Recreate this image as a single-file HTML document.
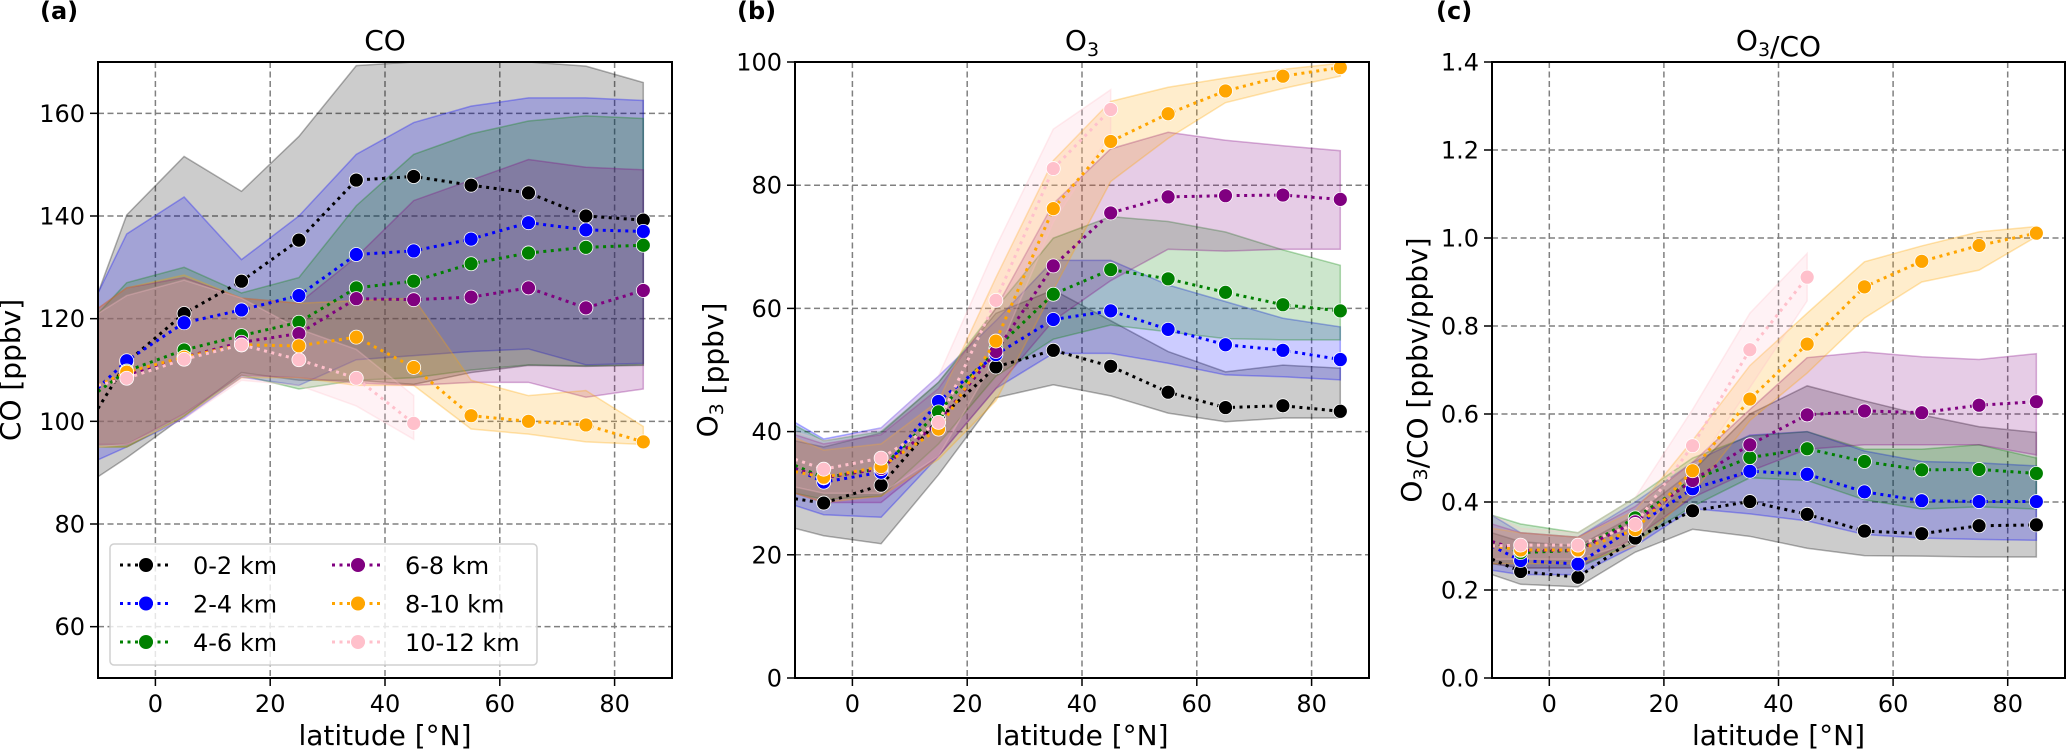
<!DOCTYPE html>
<html><head><meta charset="utf-8"><style>
html,body{margin:0;padding:0;background:#fff;}
svg{display:block;font-family:"DejaVu Sans","Liberation Sans",sans-serif;}
</style></head><body>
<svg id="fig" width="2067" height="750" viewBox="0 0 2067 750" xmlns="http://www.w3.org/2000/svg"></svg>
<script>
// ---- data (index 0 = value at left axis edge, -10°N) ----
const lats = [-10,-5,5,15,25,35,45,55,65,75,85];
const seriesNames = ["0-2 km","2-4 km","4-6 km","6-8 km","8-10 km","10-12 km"];
const seriesColors = ["#000000","#0000ff","#008000","#800080","#ffa500","#ffc0cb"];

// CO [ppbv]
const co_02 = [102.5,111.5,121,127.3,135.3,147,147.7,146,144.5,140,139.2];
const co_24 = [106.5,111.8,119.2,121.7,124.5,132.5,133.2,135.5,138.7,137.3,137];
const co_46 = [105.8,109.8,113.9,116.7,119.3,126,127.3,130.7,132.8,133.9,134.3];
const co_68 = [107,109,112.5,115.4,117.1,123.9,123.7,124.2,126,122.1,125.5];
const co_810 = [107,109.6,112.5,114.9,114.7,116.4,110.5,101.1,100,99.3,96];
const co_1012 = [107,108.4,112.1,114.9,112,108.4,99.6];
const co_02_lo = [89.2,92.9,101,109.5,108,108,107.2,109.5,110.9,110.7,110.9];
const co_02_hi = [125,140.2,151.6,144.8,155.5,169.3,170,170,170,169.2,166];
const co_24_lo = [92.5,95,100.6,108.6,107,112,112.8,113.6,114.1,111,111.3];
const co_24_hi = [125,136.5,143.7,131.5,140,152,158.2,161.4,163,163,162.5];
const co_46_lo = [95,95,101,109,106.3,108,108.5,110,111,110.8,111];
const co_46_hi = [121,127,130,125,128,142,152,156,158.5,159.5,159];
const co_68_lo = [95.5,95.5,101.5,109,108.5,107.5,107,107.6,107.6,104.7,106.3];
const co_68_hi = [122,126,128,124,123,132,143,147,151,149.5,149];
const co_810_lo = [95,95,101,108.5,108.5,107,107,98.5,97.5,96,95.5];
const co_810_hi = [122,126,128.5,124,123,123.5,124,108,105,106,99];
const co_1012_lo = [95,95.5,100.5,108,107,103,96.5];
const co_1012_hi = [121,124.5,127.5,124,118,114,105];

// O3 [ppbv]
const o3_02 = [29.1,28.4,31.3,42,50.5,53.2,50.6,46.4,43.9,44.2,43.3];
const o3_24 = [34,31.8,33.4,44.9,52.5,58.2,59.6,56.6,54.1,53.2,51.7];
const o3_46 = [34.5,32.5,34,43.2,53.5,62.3,66.3,64.8,62.6,60.6,59.6];
const o3_68 = [34,32.5,34,41.5,53,66.9,75.5,78.1,78.3,78.4,77.7];
const o3_810 = [33.5,32.6,34.3,40.4,54.7,76.2,87.1,91.6,95.3,97.7,99.1];
const o3_1012 = [35.5,33.9,35.7,41.5,61.3,82.7,92.3];
const o3_02_lo = [24.3,23.1,21.8,33,45.5,47.6,45.8,43,41.6,42.2,42.2];
const o3_02_hi = [38.5,37.5,39.8,48,59.2,63,58,53,49.7,50.8,50.3];
const o3_24_lo = [28,26.5,26.1,36,47,52.7,52.7,51.1,49.2,48.9,48.4];
const o3_24_hi = [41.5,38.8,40.6,49,58,67.8,67.8,63.8,61.1,58.4,57];
const o3_46_lo = [30,29,29.5,38,49,55,57.3,56.2,55.1,54.9,54.9];
const o3_46_hi = [41,38.5,40,48,60,71.4,74.9,74.1,72.4,69.5,67];
const o3_68_lo = [30,28.5,28.5,36,47,58,64.5,69.6,69.3,69.6,69.6];
const o3_68_hi = [39.5,38,39.5,47,60,77,85.9,88.6,87.3,86.4,85.6];
const o3_810_lo = [30,28.5,29.5,35.5,45,63,80.6,87.6,93.4,95.7,97.7];
const o3_810_hi = [39,37,38,45,65,84,93.6,95.9,97.4,98.8,99.8];
const o3_1012_lo = [31,30,30,36,52,74,88.4];
const o3_1012_hi = [40,38.5,40.5,49,70,89.1,95.5];

// O3/CO [ppbv/ppbv]
const r_02 = [0.27,0.242,0.229,0.318,0.380,0.401,0.372,0.334,0.328,0.346,0.348];
const r_24 = [0.30,0.267,0.259,0.345,0.430,0.470,0.463,0.423,0.403,0.401,0.401];
const r_46 = [0.31,0.285,0.29,0.364,0.45,0.501,0.521,0.492,0.473,0.474,0.465];
const r_68 = [0.31,0.29,0.29,0.355,0.449,0.530,0.598,0.607,0.603,0.620,0.628];
const r_810 = [0.30,0.291,0.291,0.337,0.471,0.634,0.759,0.889,0.947,0.983,1.011];
const r_1012 = [0.30,0.302,0.302,0.349,0.528,0.746,0.911];
const r_02_lo = [0.235,0.213,0.207,0.286,0.338,0.322,0.295,0.278,0.277,0.275,0.275];
const r_02_hi = [0.33,0.31,0.30,0.37,0.47,0.60,0.664,0.630,0.598,0.571,0.558];
const r_24_lo = [0.245,0.235,0.235,0.30,0.385,0.373,0.357,0.326,0.318,0.315,0.313];
const r_24_hi = [0.37,0.33,0.32,0.40,0.49,0.552,0.560,0.516,0.492,0.489,0.482];
const r_46_lo = [0.26,0.25,0.25,0.31,0.39,0.455,0.449,0.405,0.384,0.389,0.384];
const r_46_hi = [0.37,0.35,0.33,0.41,0.50,0.55,0.56,0.52,0.52,0.53,0.50];
const r_68_lo = [0.26,0.25,0.25,0.32,0.41,0.47,0.52,0.53,0.53,0.53,0.507];
const r_68_hi = [0.35,0.33,0.32,0.39,0.49,0.61,0.728,0.741,0.730,0.724,0.737];
const r_810_lo = [0.26,0.26,0.26,0.30,0.42,0.585,0.693,0.818,0.90,0.927,1.003];
const r_810_hi = [0.34,0.33,0.32,0.38,0.54,0.71,0.829,0.946,0.982,1.014,1.026];
const r_1012_lo = [0.27,0.27,0.27,0.31,0.47,0.66,0.857];
const r_1012_hi = [0.37,0.34,0.33,0.41,0.61,0.829,0.965];

const xTicks = [0,20,40,60,80];
const coTicks = [60,80,100,120,140,160];
const o3Ticks = [0,20,40,60,80,100];
const rTicks = [0,0.2,0.4,0.6,0.8,1.0,1.2,1.4];

const NS = "http://www.w3.org/2000/svg";
const fig = document.getElementById('fig');
function mk(tag, attrs, parent){
  const e = document.createElementNS(NS, tag);
  for (const k in attrs) e.setAttribute(k, attrs[k]);
  (parent||fig).appendChild(e);
  return e;
}

function panel(p){
  const X = v => p.x0 + (v - (-10)) / 100 * (p.x1 - p.x0);
  const Y = v => p.y1 - (v - p.ymin) / (p.ymax - p.ymin) * (p.y1 - p.y0);
  const g = mk('g', {});
  
  
  const cp = mk('clipPath', {id: 'clip-' + p.name}, g);
  mk('rect', {x: p.x0, y: p.y0, width: p.x1 - p.x0, height: p.y1 - p.y0}, cp);
  const grid = mk('g', {stroke: '#808080', 'stroke-width': 1.5, 'stroke-dasharray': '6,3.5'}, g);
  
  
  xTicks.forEach(t => mk('line', {x1: X(t), x2: X(t), y1: p.y0, y2: p.y1}, grid));
  p.yt.forEach(t => mk('line', {x1: p.x0, x2: p.x1, y1: Y(t), y2: Y(t)}, grid));
  const data = mk('g', {'clip-path': 'url(#clip-' + p.name + ')'}, g);
  p.series.forEach((s, i) => {
    const n = s.mean.length;
    let d = '';
    for (let k = 0; k < n; k++) d += (k ? 'L' : 'M') + X(lats[k]) + ',' + Y(s.hi[k]);
    for (let k = n - 1; k >= 0; k--) d += 'L' + X(lats[k]) + ',' + Y(s.lo[k]);
    const band = mk('path', {d: d + 'Z', fill: seriesColors[i], 'fill-opacity': 0.2, stroke: seriesColors[i], 'stroke-opacity': 0.3, 'stroke-width': 1.5}, data);
    
    
  });
  p.series.forEach((s, i) => {
    const pts = s.mean.map((v, k) => X(lats[k]) + ',' + Y(v)).join(' ');
    const ln = mk('polyline', {points: pts, fill: 'none', stroke: seriesColors[i], 'stroke-width': 3, 'stroke-dasharray': '3,4.5'}, data);
    
    
    s.mean.forEach((v, k) => {
      if (lats[k] <= -10) return;
      const c = mk('circle', {cx: X(lats[k]), cy: Y(v), r: 7, fill: seriesColors[i], stroke: '#fff', 'stroke-width': 0.8}, data);
      
      
    });
  });
  const fr = mk('rect', {x: p.x0, y: p.y0, width: p.x1 - p.x0, height: p.y1 - p.y0, fill: 'none', stroke: '#000', 'stroke-width': 2}, g);
  
  
  xTicks.forEach(t => {
    mk('line', {x1: X(t), x2: X(t), y1: p.y1, y2: p.y1 + 8, stroke: '#000', 'stroke-width': 1.5}, g);
    const tl = mk('text', {x: X(t), y: 712, 'font-size': 24, 'text-anchor': 'middle'}, g);
    tl.textContent = t;
    
    
  });
  p.yt.forEach(t => {
    mk('line', {x1: p.x0 - 8, x2: p.x0, y1: Y(t), y2: Y(t), stroke: '#000', 'stroke-width': 1.5}, g);
    const tl = mk('text', {x: p.x0 - 13, y: Y(t) + 8.5, 'font-size': 24, 'text-anchor': 'end'}, g);
    tl.textContent = p.fmt(t);
    
    
  });
  const xl = mk('text', {x: (p.x0 + p.x1) / 2, y: 745, 'font-size': 28, 'text-anchor': 'middle'}, g);
  xl.textContent = 'latitude [°N]';
  
  
  const yl = mk('text', {x: 0, y: 0, 'font-size': 28, 'text-anchor': 'middle', transform: 'translate(' + p.ylx + ',' + ((p.y0 + p.y1) / 2) + ') rotate(-90)'}, g);
  yl.innerHTML = p.ylabel;
  
  
  const ti = mk('text', {x: (p.x0 + p.x1) / 2, y: 50, 'font-size': 28, 'text-anchor': 'middle'}, g);
  ti.innerHTML = p.title;
  
  
  const lb = mk('text', {x: p.lx, y: 19, 'font-size': 24, 'font-weight': 'bold'}, g);
  lb.textContent = p.letter;
  
  
}

const sub3 = '<tspan font-size="19" dy="6">3</tspan><tspan dy="-6"></tspan>';
panel({name: 'co', x0: 98, x1: 672, y0: 62, y1: 678, ymin: 50, ymax: 170, yt: coTicks, fmt: t => String(t),
  ylx: 20, ylabel: 'CO [ppbv]', title: 'CO', letter: '(a)', lx: 40,
  series: [{mean: co_02, lo: co_02_lo, hi: co_02_hi}, {mean: co_24, lo: co_24_lo, hi: co_24_hi},
           {mean: co_46, lo: co_46_lo, hi: co_46_hi}, {mean: co_68, lo: co_68_lo, hi: co_68_hi},
           {mean: co_810, lo: co_810_lo, hi: co_810_hi}, {mean: co_1012, lo: co_1012_lo, hi: co_1012_hi}]});
panel({name: 'o3', x0: 795, x1: 1369, y0: 62, y1: 678, ymin: 0, ymax: 100, yt: o3Ticks, fmt: t => String(t),
  ylx: 717, ylabel: 'O' + sub3 + ' [ppbv]', title: 'O' + sub3, letter: '(b)', lx: 737,
  series: [{mean: o3_02, lo: o3_02_lo, hi: o3_02_hi}, {mean: o3_24, lo: o3_24_lo, hi: o3_24_hi},
           {mean: o3_46, lo: o3_46_lo, hi: o3_46_hi}, {mean: o3_68, lo: o3_68_lo, hi: o3_68_hi},
           {mean: o3_810, lo: o3_810_lo, hi: o3_810_hi}, {mean: o3_1012, lo: o3_1012_lo, hi: o3_1012_hi}]});
panel({name: 'ratio', x0: 1492, x1: 2065, y0: 62, y1: 678, ymin: 0, ymax: 1.4, yt: rTicks, fmt: t => t.toFixed(1),
  ylx: 1421, ylabel: 'O' + sub3 + '/CO [ppbv/ppbv]', title: 'O' + sub3 + '/CO', letter: '(c)', lx: 1436,
  series: [{mean: r_02, lo: r_02_lo, hi: r_02_hi}, {mean: r_24, lo: r_24_lo, hi: r_24_hi},
           {mean: r_46, lo: r_46_lo, hi: r_46_hi}, {mean: r_68, lo: r_68_lo, hi: r_68_hi},
           {mean: r_810, lo: r_810_lo, hi: r_810_hi}, {mean: r_1012, lo: r_1012_lo, hi: r_1012_hi}]});

const lg = mk('g', {});


mk('rect', {x: 110, y: 544, width: 427, height: 121, rx: 4, fill: '#fff', 'fill-opacity': 0.8, stroke: '#d0d0d0', 'stroke-width': 1.5}, lg);
seriesNames.forEach((nm, i) => {
  const col = Math.floor(i / 3), row = i % 3;
  const cx = col ? 358 : 146, cy = 565 + row * 38.5;
  const e = mk('g', {}, lg);
  
  
  mk('line', {x1: cx - 26, x2: cx + 26, y1: cy, y2: cy, stroke: seriesColors[i], 'stroke-width': 3, 'stroke-dasharray': '3,4.5'}, e);
  mk('circle', {cx: cx, cy: cy, r: 7, fill: seriesColors[i]}, e);
  const t = mk('text', {x: col ? 405 : 193, y: cy + 9, 'font-size': 24}, e);
  t.textContent = nm;
});
</script>
</body></html>
